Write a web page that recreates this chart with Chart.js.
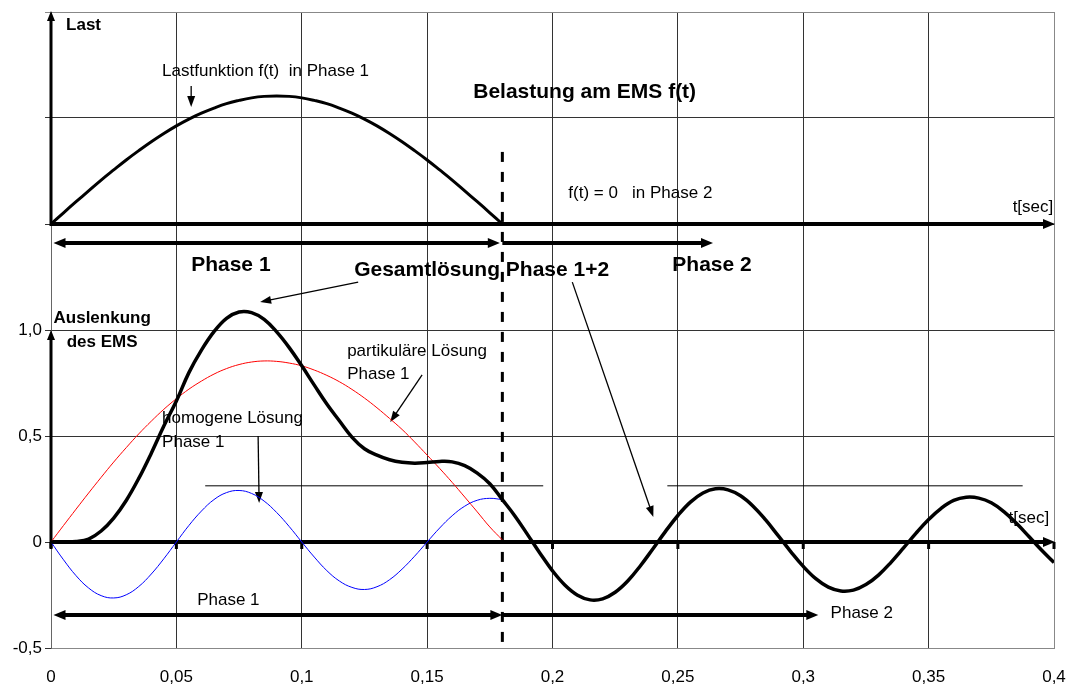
<!DOCTYPE html>
<html>
<head>
<meta charset="utf-8">
<script src="https://cdn.jsdelivr.net/npm/chart.js@4.4.1/dist/chart.umd.min.js"></script>
<style>
  html, body { margin: 0; padding: 0; background: #ffffff; }
  #wrap { width: 1070px; height: 686px; }
</style>
</head>
<body>
<div id="wrap"><canvas id="c" width="1070" height="686"></canvas></div>
<script>
// ---- time grid [s] ----
const tPhase1 = [0, 0.005, 0.01, 0.015, 0.02, 0.025, 0.03, 0.035, 0.04, 0.045,
  0.05, 0.055, 0.06, 0.065, 0.07, 0.075, 0.08, 0.085, 0.09, 0.095,
  0.1, 0.105, 0.11, 0.115, 0.12, 0.125, 0.13, 0.135, 0.14, 0.145,
  0.15, 0.155, 0.16, 0.165, 0.17, 0.175, 0.18];
const tPhase2 = [0.185, 0.19, 0.195, 0.2, 0.205, 0.21, 0.215, 0.22, 0.225, 0.23,
  0.235, 0.24, 0.245, 0.25, 0.255, 0.26, 0.265, 0.27, 0.275, 0.28,
  0.285, 0.29, 0.295, 0.3, 0.305, 0.31, 0.315, 0.32, 0.325, 0.33,
  0.335, 0.34, 0.345, 0.35, 0.355, 0.36, 0.365, 0.37, 0.375, 0.38,
  0.385, 0.39, 0.395, 0.4];

// ---- load f(t) in phase 1 (drawn on the upper axis, baseline 1.5) ----
const loadBaseline = 1.5;
const loadPhase1 = [0, 0.053, 0.105, 0.156, 0.207, 0.255, 0.302, 0.346, 0.388, 0.427,
  0.463, 0.495, 0.523, 0.547, 0.568, 0.583, 0.595, 0.602, 0.604, 0.602,
  0.595, 0.583, 0.568, 0.547, 0.523, 0.495, 0.463, 0.427, 0.388, 0.346,
  0.302, 0.255, 0.207, 0.156, 0.105, 0.053, 0];

// ---- displacement of the EMS ----
const particularPhase1 = [0, 0.078, 0.155, 0.231, 0.305, 0.377, 0.445, 0.51, 0.57, 0.626,
  0.676, 0.721, 0.759, 0.792, 0.818, 0.837, 0.849, 0.854, 0.852, 0.844,
  0.831, 0.811, 0.786, 0.756, 0.72, 0.679, 0.633, 0.583, 0.531, 0.472,
  0.41, 0.347, 0.281, 0.212, 0.142, 0.071, 0.01];
const homogeneousPhase1 = [0, -0.084, -0.159, -0.217, -0.253, -0.264, -0.249, -0.21, -0.151, -0.079,
  0, 0.078, 0.146, 0.2, 0.233, 0.243, 0.229, 0.193, 0.139, 0.073,
  0, -0.071, -0.135, -0.184, -0.214, -0.224, -0.211, -0.178, -0.128, -0.067,
  0, 0.066, 0.124, 0.169, 0.197, 0.206, 0.2];
const totalPhase1 = [0, 0, 0.002, 0.014, 0.052, 0.113, 0.196, 0.3, 0.419, 0.547,
  0.665, 0.799, 0.905, 0.992, 1.055, 1.085, 1.082, 1.05, 0.991, 0.917,
  0.831, 0.74, 0.651, 0.572, 0.495, 0.44, 0.41, 0.388, 0.376, 0.372,
  0.375, 0.38, 0.378, 0.36, 0.325, 0.275, 0.2];
const totalPhase2 = [0.123, 0.036, -0.053, -0.136, -0.204, -0.251, -0.273, -0.268, -0.237, -0.184,
  -0.113, -0.033, 0.049, 0.125, 0.188, 0.231, 0.251, 0.246, 0.218, 0.169,
  0.104, 0.03, -0.045, -0.115, -0.173, -0.213, -0.231, -0.227, -0.201, -0.156,
  -0.096, -0.028, 0.042, 0.106, 0.159, 0.196, 0.211, 0.207, 0.185, 0.143,
  0.088, 0.026, -0.038, -0.097];

// ---- tick labels ----
const xTickLabels = ['0', '0,05', '0,1', '0,15', '0,2', '0,25', '0,3', '0,35', '0,4'];
const yTickLabels = ['-0,5', '0', '0,5', '1,0', '', '', ''];

// end of phase 1 [s]
const phaseEnd = 0.18;

// ---- annotation geometry (data units) ----
const phaseArrows = [
  { y: 1.41, from: 0.001, to: 0.179, twoHeads: true },
  { y: 1.41, from: 0.18, to: 0.264, twoHeads: false },
  { y: -0.344, from: 0.001, to: 0.18, twoHeads: true },
  { y: -0.344, from: 0.18, to: 0.306, twoHeads: false }
];
const pointerArrows = [
  { from: [0.0559, 2.151], to: [0.0559, 2.052] },
  { from: [0.1225, 1.226], to: [0.0834, 1.132] },
  { from: [0.2079, 1.226], to: [0.2402, 0.118] },
  { from: [0.148, 0.788], to: [0.1353, 0.566] },
  { from: [0.0826, 0.5], to: [0.083, 0.184] }
];
const guideLines = [
  { y: 0.265, from: 0.0615, to: 0.1963 },
  { y: 0.265, from: 0.2458, to: 0.3875 }
];
const FONT = "'Liberation Sans', Arial, Helvetica, sans-serif";
const textItems = [
  { text: 'Last', t: 0.006, v: 2.439, font: 'bold 17px', align: 'left' },
  { text: 'Lastfunktion f(t)  in Phase 1', t: 0.0443, v: 2.222, font: '17px', align: 'left' },
  { text: 'Belastung am EMS f(t)', t: 0.1684, v: 2.123, font: 'bold 21px', align: 'left' },
  { text: 'f(t) = 0   in Phase 2', t: 0.2063, v: 1.646, font: '17px', align: 'left' },
  { text: 't[sec]', t: 0.3835, v: 1.58, font: '17px', align: 'left' },
  { text: 'Phase 1', t: 0.0559, v: 1.307, font: 'bold 21px', align: 'left' },
  { text: 'Gesamtlösung Phase 1+2', t: 0.1209, v: 1.283, font: 'bold 21px', align: 'left' },
  { text: 'Phase 2', t: 0.2478, v: 1.307, font: 'bold 21px', align: 'left' },
  { text: 'Auslenkung', t: 0.0204, v: 1.057, font: 'bold 17px', align: 'center' },
  { text: 'des EMS', t: 0.0204, v: 0.943, font: 'bold 17px', align: 'center' },
  { text: 'partikuläre Lösung', t: 0.1181, v: 0.901, font: '17px', align: 'left' },
  { text: 'Phase 1', t: 0.1181, v: 0.792, font: '17px', align: 'left' },
  { text: 'homogene Lösung', t: 0.0443, v: 0.585, font: '17px', align: 'left' },
  { text: 'Phase 1', t: 0.0443, v: 0.472, font: '17px', align: 'left' },
  { text: 'Phase 1', t: 0.0583, v: -0.274, font: '17px', align: 'left' },
  { text: 'Phase 2', t: 0.3109, v: -0.335, font: '17px', align: 'left' },
  { text: 't[sec]', t: 0.3819, v: 0.113, font: '17px', align: 'left' }
];

const toPoints = (ts, vs, offset = 0) => ts.map((t, i) => ({ x: t, y: vs[i] + offset }));

function head(ctx, x1, y1, x2, y2, len, half) {
  const a = Math.atan2(y2 - y1, x2 - x1);
  const c = Math.cos(a), s = Math.sin(a);
  ctx.beginPath();
  ctx.moveTo(x2, y2);
  ctx.lineTo(x2 - len * c + half * s, y2 - len * s - half * c);
  ctx.lineTo(x2 - len * c - half * s, y2 - len * s + half * c);
  ctx.closePath();
  ctx.fill();
}
function shaft(ctx, x1, y1, x2, y2, width) {
  ctx.lineWidth = width;
  ctx.beginPath();
  ctx.moveTo(x1, y1);
  ctx.lineTo(x2, y2);
  ctx.stroke();
}

const sketchPlugin = {
  id: 'sketch',
  beforeDatasetsDraw(chart) {
    const ctx = chart.ctx;
    const xs = chart.scales.x, ys = chart.scales.y;
    const px = t => xs.getPixelForValue(t);
    const py = v => ys.getPixelForValue(v);
    ctx.save();
    ctx.strokeStyle = '#000';
    ctx.fillStyle = '#000';
    ctx.lineCap = 'butt';

    // texts
    ctx.textBaseline = 'middle';
    textItems.forEach(it => {
      ctx.font = it.font + ' ' + FONT;
      ctx.textAlign = it.align;
      ctx.fillText(it.text, px(it.t), py(it.v));
    });

    // thick axes: upper (load) and lower (displacement)
    const x0 = px(0), xEnd = px(0.4);
    shaft(ctx, x0, py(loadBaseline), xEnd - 8, py(loadBaseline), 4);
    head(ctx, x0, py(loadBaseline), xEnd + 1, py(loadBaseline), 12, 5);
    shaft(ctx, x0, py(0), xEnd - 8, py(0), 4);
    head(ctx, x0, py(0), xEnd + 1, py(0), 12, 5);
    shaft(ctx, x0, py(loadBaseline) + 2, x0, py(2.5) + 8, 3);
    head(ctx, x0, py(loadBaseline), x0, py(2.5) - 1, 10, 4);
    shaft(ctx, x0, py(0) + 6, x0, py(1.0) + 8, 3);
    head(ctx, x0, py(0), x0, py(1.0), 10, 4);
    // small marks under the lower axis
    for (let i = 0; i < xTickLabels.length; i++) {
      const xx = px(i * 0.05);
      ctx.fillRect(xx - 1.5, py(0), 3, 7);
    }

    // phase arrows
    phaseArrows.forEach(a => {
      const y = py(a.y), xa = px(a.from), xb = px(a.to);
      shaft(ctx, xa + (a.twoHeads ? 8 : 0), y, xb - 8, y, 4);
      head(ctx, xa, y, xb, y, 12, 5);
      if (a.twoHeads) head(ctx, xb, y, xa, y, 12, 5);
    });

    // thin guide lines
    guideLines.forEach(g => shaft(ctx, px(g.from), py(g.y), px(g.to), py(g.y), 1));

    // pointer arrows
    pointerArrows.forEach(p => {
      const x1 = px(p.from[0]), y1 = py(p.from[1]);
      const x2 = px(p.to[0]), y2 = py(p.to[1]);
      const a = Math.atan2(y2 - y1, x2 - x1);
      shaft(ctx, x1, y1, x2 - 8 * Math.cos(a), y2 - 8 * Math.sin(a), 1.3);
      head(ctx, x1, y1, x2, y2, 11, 4);
    });

    // boundary between phase 1 and phase 2
    ctx.setLineDash([10, 10]);
    shaft(ctx, px(phaseEnd), py(1.84), px(phaseEnd), py(-0.5), 3);
    ctx.setLineDash([]);
    ctx.restore();
  }
};

Chart.defaults.font.family = FONT;
Chart.defaults.font.size = 17;
Chart.defaults.color = '#000';

new Chart(document.getElementById('c'), {
  type: 'line',
  data: {
    datasets: [
      {
        label: 'Gesamtlösung',
        data: toPoints(tPhase1.concat(tPhase2), totalPhase1.concat(totalPhase2)),
        borderColor: '#000', borderWidth: 3.5, pointRadius: 0,
        tension: 0.4, fill: false
      },
      {
        label: 'Lastfunktion',
        data: toPoints(tPhase1, loadPhase1, loadBaseline),
        borderColor: '#000', borderWidth: 3, pointRadius: 0,
        tension: 0.4, fill: false
      },
      {
        label: 'partikuläre Lösung',
        data: toPoints(tPhase1, particularPhase1),
        borderColor: '#ff0000', borderWidth: 1, pointRadius: 0,
        tension: 0.4, fill: false
      },
      {
        label: 'homogene Lösung',
        data: toPoints(tPhase1, homogeneousPhase1),
        borderColor: '#0000ff', borderWidth: 1, pointRadius: 0,
        tension: 0.4, fill: false
      }
    ]
  },
  options: {
    responsive: false,
    animation: false,
    devicePixelRatio: 1,
    layout: { padding: { left: 0, right: 16, top: 12, bottom: 0 } },
    plugins: { legend: { display: false }, tooltip: { enabled: false } },
    scales: {
      x: {
        type: 'linear', min: 0, max: 0.4,
        afterFit: s => { s.height = 38; s.paddingLeft = 0; s.paddingRight = 0; },
        border: { display: true, color: '#888', width: 1 },
        grid: {
          drawTicks: false,
          color: c => (c.tick && Math.abs(c.tick.value - 0.4) < 1e-6) ? '#888' : '#333',
          lineWidth: 1
        },
        ticks: {
          stepSize: 0.05, padding: 19, maxRotation: 0, autoSkip: false,
          callback: (v, i) => xTickLabels[i]
        }
      },
      y: {
        min: -0.5, max: 2.5,
        afterFit: s => { s.width = 51; s.paddingTop = 0; s.paddingBottom = 0; },
        border: { display: true, color: '#666', width: 1 },
        grid: {
          drawTicks: true, tickLength: 6,
          color: c => (c.tick && Math.abs(c.tick.value - 2.5) < 1e-6) ? '#888' : '#333',
          lineWidth: 1
        },
        ticks: {
          stepSize: 0.5, padding: 3, autoSkip: false,
          callback: (v, i) => yTickLabels[i]
        }
      }
    }
  },
  plugins: [sketchPlugin]
});
</script>
</body>
</html>
